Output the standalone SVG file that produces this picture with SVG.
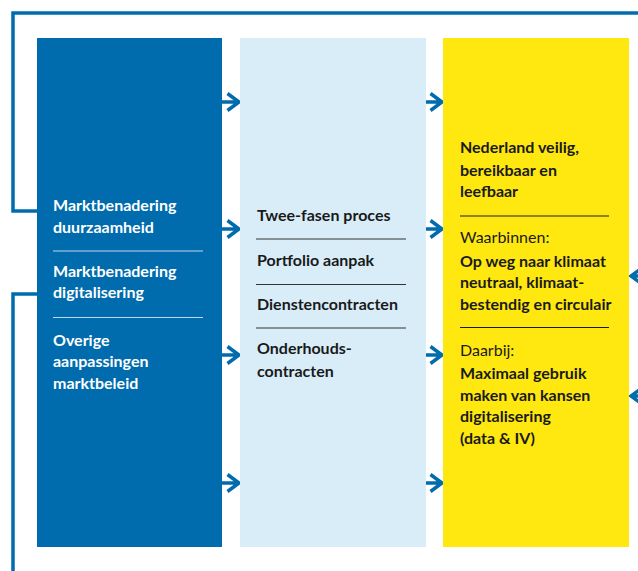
<svg xmlns="http://www.w3.org/2000/svg" width="638" height="571" viewBox="0 0 638 571">
<style>
.t{font-family:Lato,"Noto Sans","Liberation Sans",sans-serif;font-size:16px;font-weight:700}
.w{fill:#ffffff}
.d{fill:#1a1a1a}
.r{font-weight:400}
.ln{fill:none;stroke:#006BAD;stroke-width:3.5}
.ar{fill:none;stroke:#006BAD;stroke-width:3.5;stroke-linejoin:miter}
</style>
<rect width="638" height="571" fill="#ffffff"/>
<g id="connectors">
<path class="ln" d="M37,211 H13 V13 H638"/>
<path class="ln" d="M37,294 H13 V571"/>
<path class="ar" d="M222,102 H239 M227.5,93.5 L239,102 L227.5,110.5"/>
<path class="ar" d="M222,229 H239 M227.5,220.5 L239,229 L227.5,237.5"/>
<path class="ar" d="M222,355 H239 M227.5,346.5 L239,355 L227.5,363.5"/>
<path class="ar" d="M222,483 H239 M227.5,474.5 L239,483 L227.5,491.5"/>
<path class="ar" d="M425,102 H442 M430.5,93.5 L442,102 L430.5,110.5"/>
<path class="ar" d="M425,229 H442 M430.5,220.5 L442,229 L430.5,237.5"/>
<path class="ar" d="M425,355 H442 M430.5,346.5 L442,355 L430.5,363.5"/>
<path class="ar" d="M425,483 H442 M430.5,474.5 L442,483 L430.5,491.5"/>
<path class="ar" d="M638,276 H631 M642.5,267.5 L631,276 L642.5,284.5"/>
<path class="ar" d="M638,396 H631 M642.5,387.5 L631,396 L642.5,404.5"/>
</g>
<g id="box-markt">
<rect x="37" y="38" width="185" height="509" fill="#006BAD"/>
<text class="t w" x="53" y="211">Marktbenadering</text>
<text class="t w" x="53" y="233">duurzaamheid</text>
<line x1="53" y1="251" x2="203" y2="251" stroke="#ffffff" stroke-opacity="0.75" stroke-width="1"/>
<text class="t w" x="53" y="277">Marktbenadering</text>
<text class="t w" x="53" y="298">digitalisering</text>
<line x1="53" y1="317.5" x2="203" y2="317.5" stroke="#ffffff" stroke-opacity="0.75" stroke-width="1"/>
<text class="t w" x="53" y="346">Overige</text>
<text class="t w" x="53" y="367">aanpassingen</text>
<text class="t w" x="53" y="389">marktbeleid</text>
</g>
<g id="box-aanpak">
<rect x="240" y="38" width="186" height="509" fill="#D9EDF9"/>
<text class="t d" x="257" y="221">Twee-fasen proces</text>
<line x1="256" y1="239" x2="406" y2="239" stroke="#333333" stroke-width="1"/>
<text class="t d" x="257" y="266">Portfolio aanpak</text>
<line x1="256" y1="284.5" x2="406" y2="284.5" stroke="#333333" stroke-width="1"/>
<text class="t d" x="257" y="310">Dienstencontracten</text>
<line x1="256" y1="328" x2="406" y2="328" stroke="#333333" stroke-width="1"/>
<text class="t d" x="257" y="354">Onderhouds-</text>
<text class="t d" x="257" y="377">contracten</text>
</g>
<g id="box-doelen">
<rect x="443" y="38" width="186" height="509" fill="#FFE80F"/>
<text class="t d" x="460" y="153">Nederland veilig,</text>
<text class="t d" x="460" y="175.5">bereikbaar en</text>
<text class="t d" x="460" y="197">leefbaar</text>
<line x1="460" y1="216" x2="609" y2="216" stroke="#1a1a1a" stroke-width="1"/>
<text class="t d r" x="460" y="242.5">Waarbinnen:</text>
<text class="t d" x="460" y="266.5">Op weg naar klimaat</text>
<text class="t d" x="460" y="288">neutraal, klimaat-</text>
<text class="t d" x="460" y="309.5">bestendig en circulair</text>
<line x1="460" y1="327.5" x2="609" y2="327.5" stroke="#1a1a1a" stroke-width="1"/>
<text class="t d r" x="460" y="356">Daarbij:</text>
<text class="t d" x="460" y="378.5">Maximaal gebruik</text>
<text class="t d" x="460" y="400.5">maken van kansen</text>
<text class="t d" x="460" y="421.5">digitalisering</text>
<text class="t d" x="460" y="443.5">(data &amp; IV)</text>
</g>
</svg>
